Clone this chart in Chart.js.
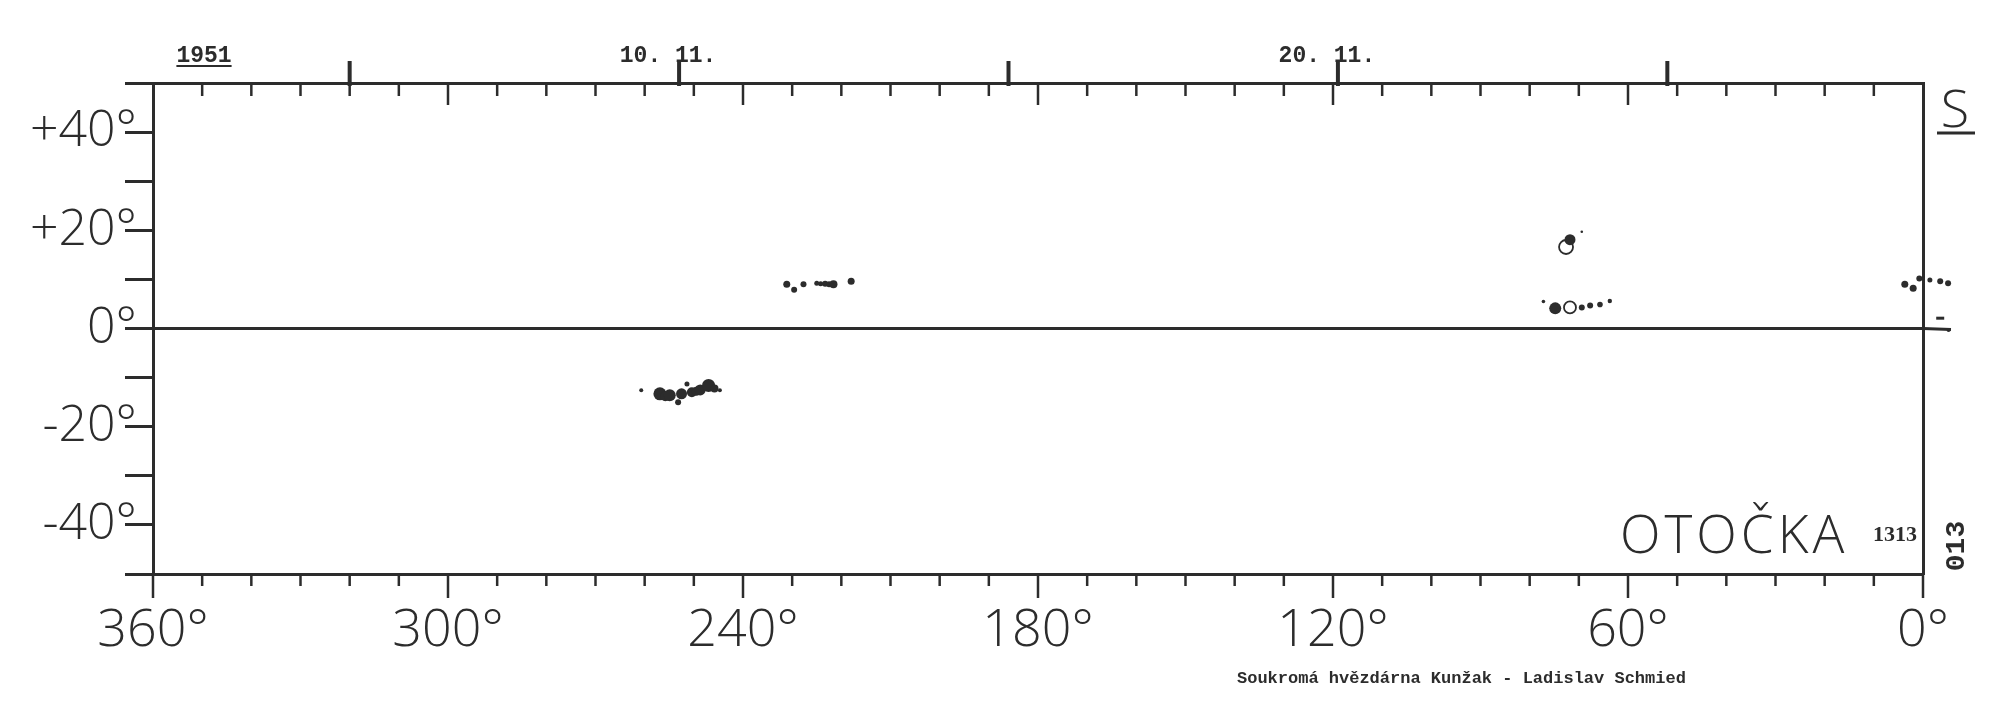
<!DOCTYPE html>
<html><head><meta charset="utf-8">
<style>html,body{margin:0;padding:0;background:#fff;}canvas{display:block;}</style>
<script src="https://cdn.jsdelivr.net/npm/chart.js@4.4.1/dist/chart.umd.min.js"></script>
</head><body>
<canvas id="c" width="2000" height="714"></canvas>
<script>
// Carrington longitude (deg) / heliographic latitude (deg) / drawn size of each umbra blob
const spotLon = [260.7, 256.9, 255.8, 254.9, 253.2, 252.5, 251.4, 250.4, 249.5, 248.7, 247.0, 245.8, 244.7,
                 231.1, 229.6, 227.7, 225.0, 224.2, 223.3, 222.5, 221.6, 218.0,
                 71.8, 69.4,
                 77.2, 74.8, 69.4, 67.7, 65.7, 63.7,
                 3.7, 2.0, 0.75, -1.4, -3.5, -5.1, -5.2];
const spotLat = [-12.6, -13.3, -13.8, -13.6, -15.0, -13.3, -11.3, -13.0, -12.8, -12.5, -11.6, -12.2, -12.6,
                 9.0, 7.9, 9.0, 9.2, 9.1, 9.1, 9.0, 9.0, 9.6,
                 18.1, 19.7,
                 5.5, 4.1, 4.3, 4.7, 4.9, 5.6,
                 9.0, 8.2, 10.2, 9.9, 9.6, 9.2, -0.3];
const spotSize = [2, 6.5, 5, 6, 3, 5.5, 2.5, 5, 4.5, 5.5, 6.5, 4, 2,
                  3.5, 3, 3, 2.5, 2.5, 3, 3, 4, 3.5,
                  5.5, 1.3,
                  1.8, 6, 3, 3, 2.8, 2.2,
                  3.5, 3.5, 3, 2.5, 3, 3, 2];
// penumbra outlines
const penLon = [72.6, 71.8];
const penLat = [16.6, 4.3];
const penSize = [7, 6];
// short dash mark right of the 0° edge
const dashLon = [-3.5];
const dashLat = [2.1];
const dashSize = [4];
// axis labels
const lonLabelValues = [360, 300, 240, 180, 120, 60, 0];
const latLabelValues = [40, 20, 0, -20, -40];
const latLabelText = ['+40°', '+20°', '0°', '-20°', '-40°'];
// 5-day date markers on the top scale (longitude of central meridian)
const dateMarkLon = [320, 253, 186, 119, 52];
const dateMarkText = ['', '10. 11.', '', '20. 11.', ''];
const yearText = '1951';
const rotationText = 'OTOČKA';
const rotationNo = '1313';
const hemisphereText = 'S';
const sheetNo = '013';
const creditText = 'Soukromá hvězdárna Kunžak - Ladislav Schmied';

const INK = '#2c2c2c';
const FONT = "'Open Sans', sans-serif";

const decor = {
  id: 'decor',
  afterDraw(chart) {
    const ctx = chart.ctx, xs = chart.scales.x, ys = chart.scales.y, ca = chart.chartArea;
    ctx.save();
    ctx.strokeStyle = INK; ctx.fillStyle = INK; ctx.lineCap = 'butt';
    // equator continues past the 0° edge
    ctx.lineWidth = 3;
    const eq = ys.getPixelForValue(0);
    ctx.beginPath(); ctx.moveTo(ca.right, eq); ctx.lineTo(ca.right + 28, eq + 1); ctx.stroke();
    // bottom ticks (outward)
    ctx.lineWidth = 2.5;
    for (let v = 0; v <= 360; v += 10) {
      const px = xs.getPixelForValue(v);
      const len = v % 60 === 0 ? 24 : 12;
      ctx.beginPath(); ctx.moveTo(px, ca.bottom); ctx.lineTo(px, ca.bottom + len); ctx.stroke();
    }
    // top ticks (inward)
    for (let v = 10; v < 360; v += 10) {
      const px = xs.getPixelForValue(v);
      const len = v % 60 === 0 ? 22 : 13;
      ctx.beginPath(); ctx.moveTo(px, ca.top); ctx.lineTo(px, ca.top + len); ctx.stroke();
    }
    // date markers
    ctx.lineWidth = 4;
    ctx.font = "bold 23px 'Liberation Mono', monospace";
    ctx.textAlign = 'center'; ctx.textBaseline = 'alphabetic';
    dateMarkLon.forEach((lon, i) => {
      const px = xs.getPixelForValue(lon);
      ctx.beginPath(); ctx.moveTo(px, ca.top - 22); ctx.lineTo(px, ca.top + 3); ctx.stroke();
      if (dateMarkText[i]) ctx.fillText(dateMarkText[i], px - 11, ca.top - 21);
    });
    // year, underlined
    ctx.fillText(yearText, ca.left + 51, ca.top - 21);
    const yw = ctx.measureText(yearText).width;
    ctx.lineWidth = 2;
    ctx.beginPath(); ctx.moveTo(ca.left + 51 - yw / 2, ca.top - 17); ctx.lineTo(ca.left + 51 + yw / 2, ca.top - 17); ctx.stroke();
    // hemisphere letter
    ctx.font = '300 52px ' + FONT;
    ctx.fillText(hemisphereText, ca.right + 32, ca.top + 44);
    ctx.lineWidth = 3;
    ctx.beginPath(); ctx.moveTo(ca.right + 14, ca.top + 50); ctx.lineTo(ca.right + 52, ca.top + 50); ctx.stroke();
    // rotation name
    ctx.textAlign = 'left';
    ctx.font = '300 53px ' + FONT;
    ctx.letterSpacing = '4px';
    ctx.fillText(rotationText, ca.right - 303, ca.bottom - 21);
    ctx.letterSpacing = '0px';
    ctx.font = "bold 22px 'Liberation Serif', serif";
    ctx.fillText(rotationNo, ca.right - 50, ca.bottom - 33);
    // sheet number, rotated
    ctx.save();
    ctx.translate(ca.right + 34, ca.bottom - 28);
    ctx.rotate(-Math.PI / 2);
    ctx.textAlign = 'center'; ctx.textBaseline = 'middle';
    ctx.font = "bold 28px 'Liberation Mono', monospace";
    ctx.fillText(sheetNo, 0, 0);
    ctx.restore();
    // credit
    ctx.textAlign = 'left';
    ctx.font = "bold 17px 'Liberation Mono', monospace";
    ctx.fillText(creditText, 1237, 683);
    ctx.restore();
  }
};

new Chart(document.getElementById('c'), {
  type: 'scatter',
  data: {
    datasets: [
      {
        data: spotLon.map((x, i) => ({ x, y: spotLat[i] })),
        pointRadius: spotSize, pointHoverRadius: 40,
        backgroundColor: INK, borderWidth: 0, pointStyle: 'circle', clip: false
      },
      {
        data: penLon.map((x, i) => ({ x, y: penLat[i] })),
        pointRadius: penSize, pointHoverRadius: 40,
        backgroundColor: 'rgba(0,0,0,0)', borderColor: INK, borderWidth: 1.8, pointStyle: 'circle', clip: false
      },
      {
        data: dashLon.map((x, i) => ({ x, y: dashLat[i] })),
        pointRadius: dashSize, pointHoverRadius: 40,
        borderColor: INK, borderWidth: 3, pointStyle: 'line', clip: false
      }
    ]
  },
  options: {
    responsive: false, animation: false, devicePixelRatio: 1,
    events: [],
    layout: { padding: 0 },
    plugins: { legend: { display: false }, tooltip: { enabled: false } },
    scales: {
      x: {
        type: 'linear', position: 'bottom', reverse: true, min: 0, max: 360,
        afterFit: s => { s.height = 140; },
        ticks: {
          stepSize: 10, autoSkip: false, maxRotation: 0, padding: 26, color: INK,
          font: { family: FONT, size: 52, weight: '300' },
          callback: v => lonLabelValues.includes(v) ? v + '°' : ''
        },
        grid: { drawOnChartArea: false, drawTicks: false },
        border: { display: true, color: INK, width: 3 }
      },
      xTop: {
        type: 'linear', position: 'top', reverse: true, min: 0, max: 360,
        afterFit: s => { s.height = 83; },
        ticks: { display: false },
        grid: { drawOnChartArea: false, drawTicks: false },
        border: { display: true, color: INK, width: 3 }
      },
      y: {
        type: 'linear', position: 'left', min: -50, max: 50,
        afterFit: s => { s.width = 153; },
        ticks: {
          stepSize: 10, autoSkip: false, padding: -12, color: INK,
          font: { family: FONT, size: 50, weight: '300' },
          callback: v => { const i = latLabelValues.indexOf(v); return i >= 0 ? latLabelText[i] : ''; }
        },
        grid: {
          drawOnChartArea: true, drawTicks: true, tickLength: 28, tickColor: INK, tickWidth: 3,
          color: c => (c.tick && c.tick.value === 0) ? INK : 'rgba(0,0,0,0)',
          lineWidth: c => (c.tick && c.tick.value === 0) ? 3 : 1
        },
        border: { display: true, color: INK, width: 3 }
      },
      yRight: {
        type: 'linear', position: 'right', min: -50, max: 50,
        afterFit: s => { s.width = 77; },
        ticks: { display: false },
        grid: { drawOnChartArea: false, drawTicks: false },
        border: { display: true, color: INK, width: 3 }
      }
    }
  },
  plugins: [decor]
});
</script>
</body></html>
